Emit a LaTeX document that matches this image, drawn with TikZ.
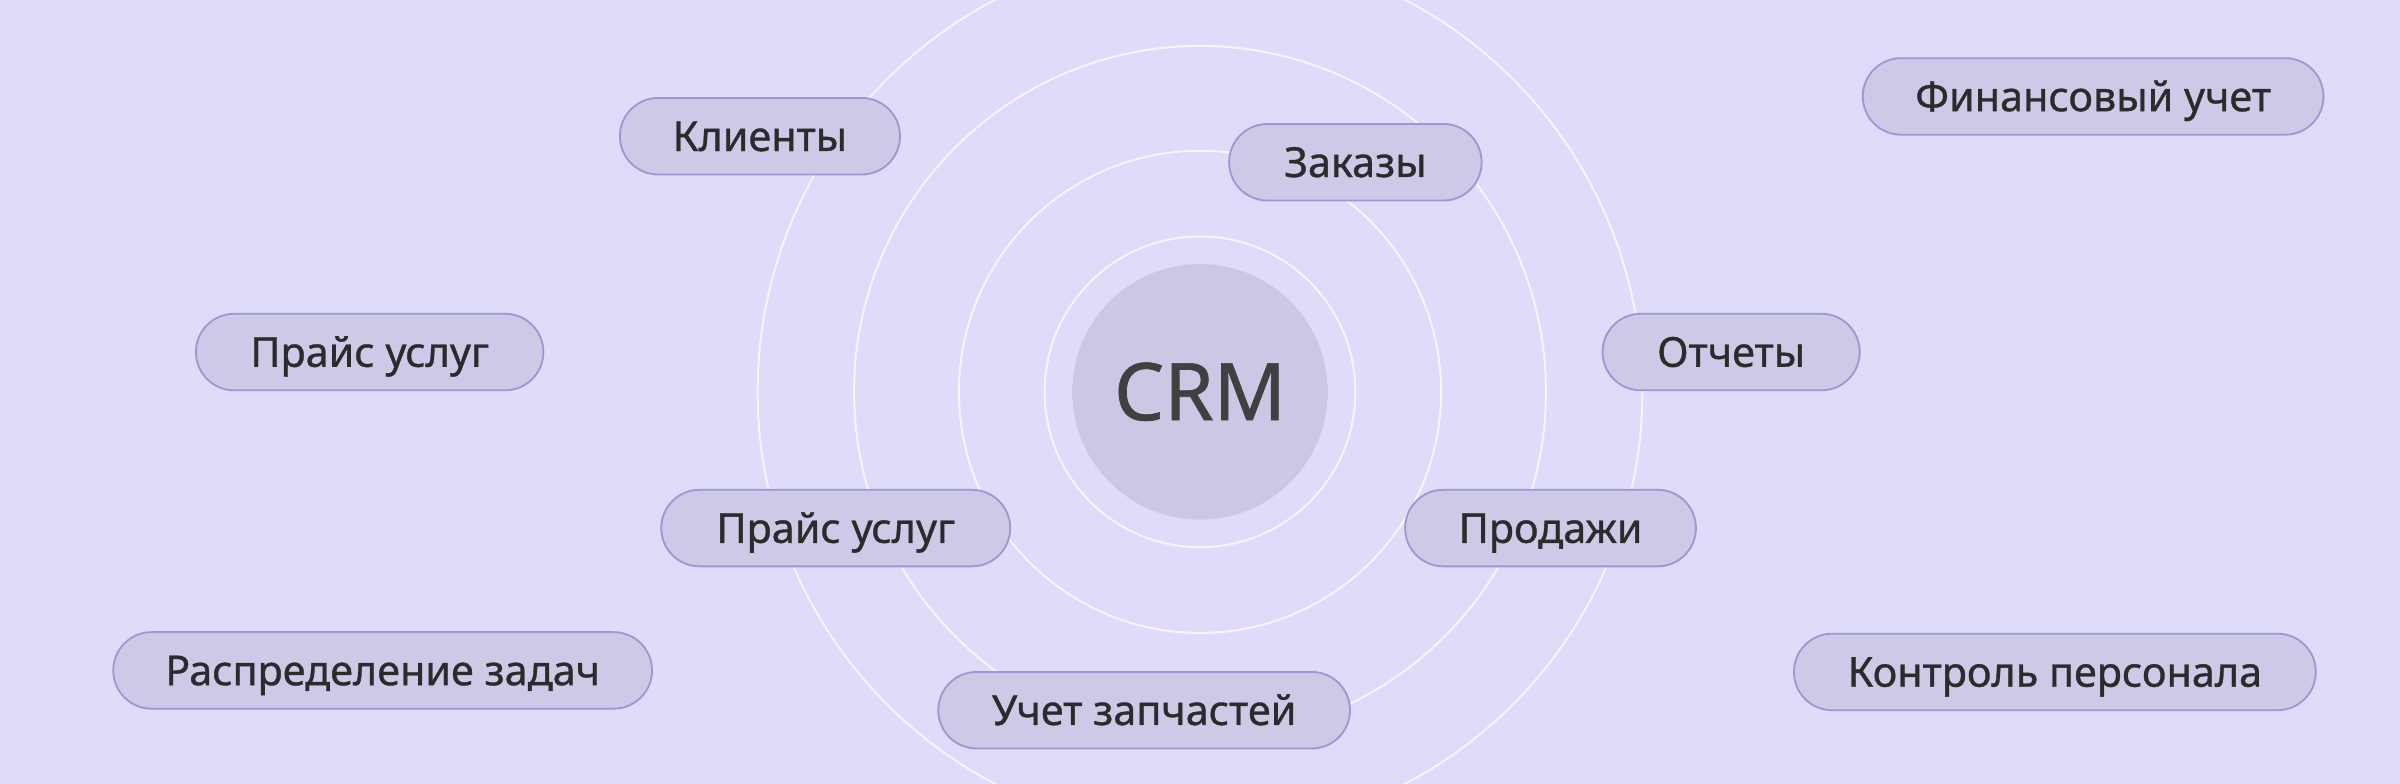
\documentclass[tikz,border=0pt]{standalone}
\usepackage{fontspec}
\setmainfont{Noto Sans}[FakeBold=0.8]
\newfontfamily\medfont{Noto Sans}[FakeBold=0.8]
\definecolor{bgc}{HTML}{DEDCF8}
\definecolor{pillfill}{HTML}{CDCAE8}
\definecolor{pilldraw}{HTML}{9E97D3}
\definecolor{txt}{HTML}{2B2B2B}
\definecolor{crmtxt}{HTML}{404040}
\definecolor{crmfill}{HTML}{CBC8E6}
\definecolor{ringc}{HTML}{F6F5FE}
\tikzset{
  pill/.style={draw=pilldraw, fill=pillfill, line width=1.2pt, rounded corners=25pt,
    minimum height=50pt, inner sep=0pt, text=txt, text height=19.3pt, text depth=0pt,
    font=\fontsize{27}{30}\selectfont\bfseries},
  ring/.style={draw=ringc, line width=1.3pt},
}
\begin{document}
\begin{tikzpicture}[x=1pt,y=-1pt]
\useasboundingbox (0,0) rectangle (1568,512);
\fill[bgc] (0,0) rectangle (1568,512);
\coordinate (c) at (784,256);
\draw[ring] (c) circle[radius=101.5];
\draw[ring] (c) circle[radius=157.5];
\draw[ring] (c) circle[radius=226];
\draw[ring] (c) circle[radius=289];
\node[circle, fill=crmfill, minimum size=167pt, inner sep=0pt, text=crmtxt,
  text height=37pt, text depth=0pt,
  font=\fontsize{52}{56}\selectfont\bfseries] (crm) at (c) {CRM};
\node[pill, minimum width=183pt] (kl) at (496.5,89) {Клиенты};
\node[pill, minimum width=165pt] (zak) at (885.5,106) {Заказы};
\node[pill, minimum width=301pt] (fin) at (1367.5,63) {Финансовый учет};
\node[pill, minimum width=227pt] (pr1) at (241.5,230) {Прайс услуг};
\node[pill, minimum width=168pt] (otch) at (1131,230) {Отчеты};
\node[pill, minimum width=228pt] (pr2) at (546,345) {Прайс услуг};
\node[pill, minimum width=190pt] (prod) at (1013,345) {Продажи};
\node[pill, minimum width=352pt] (rasp) at (250,438) {Распределение задач};
\node[pill, minimum width=269pt] (uch) at (747.5,464) {Учет запчастей};
\node[pill, minimum width=341pt] (kont) at (1342.5,439) {Контроль персонала};
\end{tikzpicture}
\end{document}
